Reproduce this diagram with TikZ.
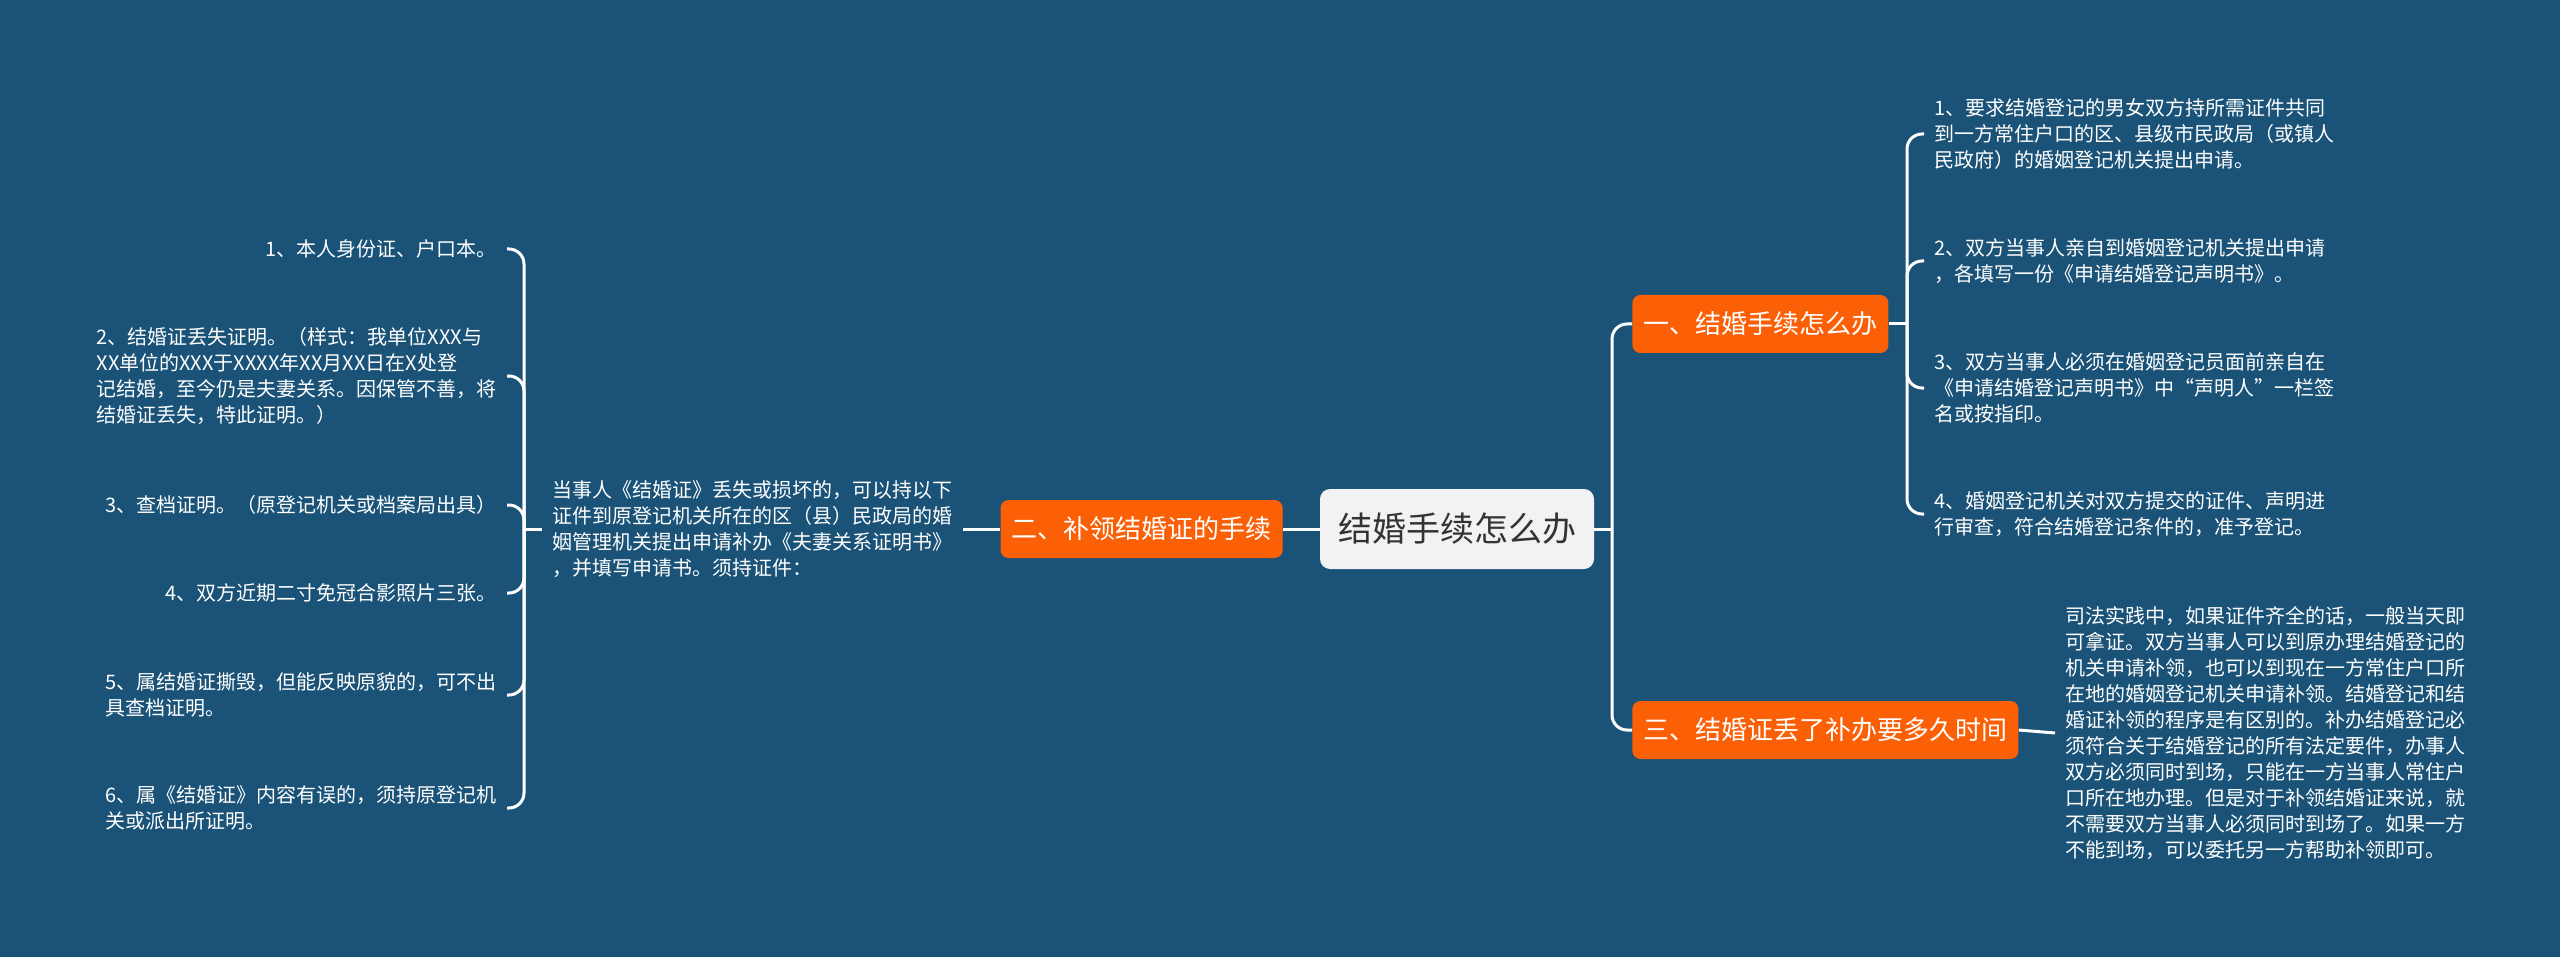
\documentclass[tikz,border=0pt]{standalone}
\usepackage{fontspec}
\setmainfont{Noto Sans CJK SC}
\usepackage{tikz}
\definecolor{MapBg}{RGB}{26,83,119}
\definecolor{TopicOrange}{RGB}{252,96,6}
\definecolor{RootGray}{RGB}{242,242,242}
\definecolor{RootText}{RGB}{51,51,51}

\begin{document}
\begin{tikzpicture}[x=0.5pt,y=-0.5pt,
        rootbox/.style={rectangle, fill=RootGray, rounded corners=5pt,
                        minimum width=137pt, minimum height=40pt,
                        font=\fontsize{17pt}{20pt}\selectfont, text=RootText},
        topicbox/.style={rectangle, fill=TopicOrange, rounded corners=4pt,
                         minimum height=29pt, inner xsep=5.5pt,
                         font=\fontsize{13pt}{16pt}\selectfont, text=white},
        leaftext/.style={align=left, inner xsep=5pt, inner ysep=2pt,
                         font=\fontsize{10pt}{13pt}\selectfont, text=white},
        mylink/.style={white, line width=1.5pt, rounded corners=7.5pt}
      ]
        \fill[MapBg] (0,0) rectangle (2560,957);
        \useasboundingbox (0,0) rectangle (2560,957);

        \node[rootbox] (root) at (1457,529) {结婚手续怎么办};

        \node[topicbox, anchor=west] (t1) at (1632,324) {一、结婚手续怎么办};
        \node[topicbox, anchor=east] (t2) at (1283,529) {二、补领结婚证的手续};
        \node[topicbox, anchor=west] (t3) at (1632,730) {三、结婚证丢了补办要多久时间};

        % right: steps
        \node[leaftext, anchor=west] (r1) at (1924,134) {1、要求结婚登记的男女双方持所需证件共同\\到一方常住户口的区、县级市民政局（或镇人\\民政府）的婚姻登记机关提出申请。};
        \node[leaftext, anchor=west] (r2) at (1924,261) {2、双方当事人亲自到婚姻登记机关提出申请\\，各填写一份《申请结婚登记声明书》。};
        \node[leaftext, anchor=west] (r3) at (1924,388) {3、双方当事人必须在婚姻登记员面前亲自在\\《申请结婚登记声明书》中“声明人”一栏签\\名或按指印。};
        \node[leaftext, anchor=west] (r4) at (1924,514) {4、婚姻登记机关对双方提交的证件、声明进\\行审查，符合结婚登记条件的，准予登记。};

        \node[leaftext, anchor=west] (p3) at (2055,733) {司法实践中，如果证件齐全的话，一般当天即\\可拿证。双方当事人可以到原办理结婚登记的\\机关申请补领，也可以到现在一方常住户口所\\在地的婚姻登记机关申请补领。结婚登记和结\\婚证补领的程序是有区别的。补办结婚登记必\\须符合关于结婚登记的所有法定要件，办事人\\双方必须同时到场，只能在一方当事人常住户\\口所在地办理。但是对于补领结婚证来说，就\\不需要双方当事人必须同时到场了。如果一方\\不能到场，可以委托另一方帮助补领即可。};

        % left: documents
        \node[leaftext, anchor=west] (p2) at (542,529) {当事人《结婚证》丢失或损坏的，可以持以下\\证件到原登记机关所在的区（县）民政局的婚\\姻管理机关提出申请补办《夫妻关系证明书》\\，并填写申请书。须持证件：};

        \node[leaftext, anchor=east] (l1) at (507,249) {1、本人身份证、户口本。};
        \node[leaftext, anchor=east] (l2) at (507,376) {2、结婚证丢失证明。（样式：我单位XXX与\\XX单位的XXX于XXXX年XX月XX日在X处登\\记结婚，至今仍是夫妻关系。因保管不善，将\\结婚证丢失，特此证明。）};
        \node[leaftext, anchor=east] (l3) at (507,505) {3、查档证明。（原登记机关或档案局出具）};
        \node[leaftext, anchor=east] (l4) at (507,593) {4、双方近期二寸免冠合影照片三张。};
        \node[leaftext, anchor=east] (l5) at (507,695) {5、属结婚证撕毁，但能反映原貌的，可不出\\具查档证明。};
        \node[leaftext, anchor=east] (l6) at (507,808) {6、属《结婚证》内容有误的，须持原登记机\\关或派出所证明。};

        \coordinate (rtrunk) at (1612,529);
        \coordinate (rfork) at (1907,324);
        \coordinate (lfork) at (524,529);

        \draw[mylink] (root.east) -- (rtrunk);
        \draw[mylink] (rtrunk) |- (t1.west);
        \draw[mylink] (rtrunk) |- (t3.west);
        \draw[mylink] (root.west) -- (t2.east);

        \draw[mylink] (t1.east) -- (rfork);
        \foreach \n in {r1,r2,r3,r4}
          \draw[mylink] (rfork) |- (\n.west);
        \draw[mylink] (t3.east) -- (p3.west);

        \draw[mylink] (t2.west) -- (p2.east);
        \draw[mylink] (p2.west) -- (lfork);
        \foreach \n in {l1,l2,l3,l4,l5,l6}
          \draw[mylink] (lfork) |- (\n.east);
      \end{tikzpicture}
\end{document}
